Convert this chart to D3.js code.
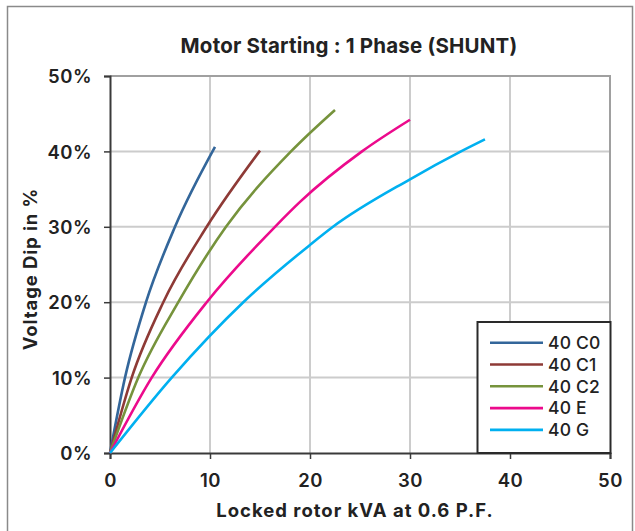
<!DOCTYPE html>
<html><head><meta charset="utf-8">
<script src="https://cdn.jsdelivr.net/npm/d3@7"></script>
<style>
body{margin:0;background:#fff;}
svg{display:block;font-family:Inter,"Noto Sans",sans-serif;}
</style></head>
<body><svg id="c" width="635" height="531"></svg>
<script>
const seriesNames = ["40 C0","40 C1","40 C2","40 E","40 G"];
const seriesColors = ["#33669a","#8e3a36","#76933c","#ec0a8c","#00b0f0"];
const kva_C0 = [0,1.5,3.6,6.5,10.5];
const dip_C0 = [0,10,20,30,40.6];
const kva_C1 = [0,2.17,5.33,9.67,15.0];
const dip_C1 = [0,10,20,30,40.1];
const kva_C2 = [0,2.83,6.83,11.6,18.1,22.5];
const dip_C2 = [0,10,20,30,40,45.5];
const kva_E = [0,4.17,9.67,16.5,19,25.2,30];
const dip_E = [0,10,20,30,33.3,40,44.2];
const kva_G = [0,6.17,13.33,20,22.3,30,35.1,37.5];
const dip_G = [0,10,20,27.6,30,36.3,40,41.6];
const xTicks = [0,10,20,30,40,50];
const yTicks = [0,10,20,30,40,50];

const series = [[kva_C0,dip_C0],[kva_C1,dip_C1],[kva_C2,dip_C2],[kva_E,dip_E],[kva_G,dip_G]]
  .map((s,i)=>({name:seriesNames[i],color:seriesColors[i],pts:s[0].map((k,j)=>[k,s[1][j]])}));

const svg = d3.select("#c");
const L=110,R=610,T=76,B=453;
const x = d3.scaleLinear().domain([0,50]).range([L,R]);
const y = d3.scaleLinear().domain([0,50]).range([B,T]);

// outer border
svg.append("rect").attr("x",7.5).attr("y",6.5).attr("width",625).attr("height",540)
  .attr("fill","none").attr("stroke","#8a8a8a").attr("stroke-width",1.5);

// title
svg.append("text").attr("x",349).attr("y",53).attr("text-anchor","middle")
  .attr("font-size",20.5).attr("font-weight",700).attr("fill","#222").attr("letter-spacing",0.2)
  .text("Motor Starting : 1 Phase (SHUNT)");

// gridlines
const g = svg.append("g");
g.selectAll(".vg").data(xTicks.filter(t=>t>0&&t<50)).enter().append("line")
  .attr("x1",d=>x(d)).attr("x2",d=>x(d)).attr("y1",T).attr("y2",B)
  .attr("stroke","#cccccc").attr("stroke-width",2);
g.selectAll(".hg").data(yTicks.filter(t=>t>0&&t<50)).enter().append("line")
  .attr("x1",L).attr("x2",R).attr("y1",d=>y(d)).attr("y2",d=>y(d))
  .attr("stroke","#cccccc").attr("stroke-width",2);
// top/right frame
svg.append("path").attr("d",`M${L},${T}H${R}V${B}`).attr("fill","none")
  .attr("stroke","#a0a0a0").attr("stroke-width",2);

// axes
const xAxis = d3.axisBottom(x).tickValues(xTicks).tickSize(6).tickPadding(15).tickFormat(d3.format("d"));
const yAxis = d3.axisLeft(y).tickValues(yTicks).tickSize(6).tickPadding(12).tickFormat(d=>d+"%");
const gx = svg.append("g").attr("transform",`translate(0,${B})`).call(xAxis);
const gy = svg.append("g").attr("transform",`translate(${L},0)`).call(yAxis);
[gx,gy].forEach(a=>{
  a.select(".domain").attr("stroke","#3a3a3a").attr("stroke-width",2);
  a.selectAll(".tick line").attr("stroke","#3a3a3a").attr("stroke-width",1.5);
  a.selectAll(".tick text").attr("font-family","Inter,'Noto Sans',sans-serif")
    .attr("font-size",18.5).attr("font-weight",600).attr("fill","#222").attr("letter-spacing",0.5);
});
gy.selectAll(".tick text").attr("dy","0.36em");

// axis titles
svg.append("text").attr("x",355).attr("y",517).attr("text-anchor","middle")
  .attr("font-size",18.5).attr("font-weight",700).attr("fill","#222").attr("letter-spacing",1)
  .text("Locked rotor kVA at 0.6 P.F.");
svg.append("text").attr("transform","translate(36.5,269) rotate(-90)").attr("text-anchor","middle")
  .attr("font-size",18.5).attr("font-weight",700).attr("fill","#222").attr("letter-spacing",0.9)
  .text("Voltage Dip in %");

// lines
const line = d3.line().x(d=>x(d[0])).y(d=>y(d[1])).curve(d3.curveMonotoneX);
svg.append("g").selectAll("path").data(series).enter().append("path")
  .attr("d",d=>line(d.pts)).attr("fill","none").attr("stroke",d=>d.color)
  .attr("stroke-width",2.6).attr("stroke-linejoin","round");

// legend
const lg = svg.append("g");
lg.append("rect").attr("x",477.5).attr("y",322).attr("width",133).attr("height",131)
  .attr("fill","#fff").attr("stroke","#2a2a2a").attr("stroke-width",2);
const rows = lg.selectAll(".row").data(series).enter().append("g")
  .attr("transform",(d,i)=>`translate(0,${342.7+i*21.8})`);
rows.append("line").attr("x1",490).attr("x2",543).attr("y1",0).attr("y2",0)
  .attr("stroke",d=>d.color).attr("stroke-width",2.6);
rows.append("text").attr("x",548).attr("y",0).attr("dy","0.36em")
  .attr("font-size",17.5).attr("font-weight",500).attr("fill","#222")
  .attr("letter-spacing",0.2).text(d=>d.name);
</script></body></html>
